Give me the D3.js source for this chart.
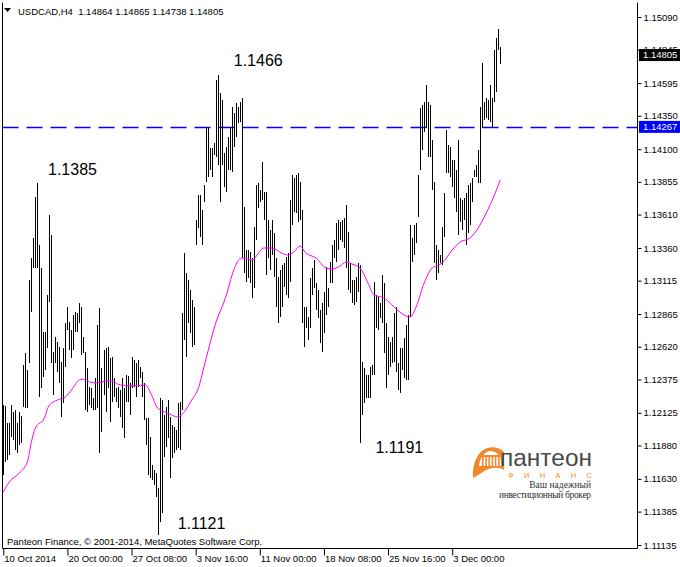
<!DOCTYPE html>
<html><head><meta charset="utf-8">
<script src="https://cdn.jsdelivr.net/npm/d3@7"></script>
<style>body{margin:0;background:#fff}svg{display:block}</style>
</head><body>
<svg id="chart" width="680" height="567"></svg>
<script>
const symbol = "USDCAD,H4";
const headerValues = ["1.14864", "1.14865", "1.14738", "1.14805"];
const highs = [1.12184,1.12176,1.12049,1.12049,1.12184,1.12131,1.12146,1.12049,1.12131,1.12101,
1.12483,1.12573,1.12446,1.13120,1.13285,1.13435,1.13741,1.13846,1.13382,1.13210,
1.12730,1.12730,1.13007,1.13607,1.13457,1.12581,1.12693,1.12656,1.12618,1.12506,
1.12611,1.12798,1.12918,1.12805,1.12745,1.12858,1.12880,1.12873,1.12948,1.12918,
1.12693,1.12581,1.12461,1.12318,1.12311,1.12236,1.12386,1.12783,1.12910,1.12461,
1.12596,1.12611,1.12618,1.12536,1.12543,1.12386,1.12311,1.12318,1.12296,1.12386,
1.12311,1.12408,1.12401,1.12348,1.12543,1.12521,1.12498,1.12521,1.12468,1.12431,
1.12348,1.12086,1.12086,1.11944,1.11734,1.11697,1.11674,1.11562,1.12236,1.12221,
1.12109,1.12169,1.12221,1.12094,1.12034,1.12019,1.11996,1.12199,1.12206,1.12873,
1.13322,1.13172,1.13120,1.13045,1.12970,1.12918,1.13569,1.13756,1.13756,1.13644,
1.13831,1.14258,1.14258,1.14109,1.14109,1.14146,1.14618,1.14655,1.14520,1.14468,
1.14071,1.14116,1.14191,1.14266,1.14416,1.14371,1.14446,1.14416,1.14453,1.14483,
1.13667,1.13345,1.13345,1.13330,1.13285,1.13517,1.13831,1.13846,1.13794,1.14004,
1.13779,1.13779,1.13569,1.13494,1.13569,1.13472,1.13285,1.13142,1.13195,1.13232,
1.13247,1.13292,1.13322,1.13719,1.13906,1.13884,1.13906,1.13921,1.13854,1.13644,
1.12918,1.12918,1.12843,1.13135,1.13210,1.13270,1.13097,1.13045,1.12895,1.12948,
1.13030,1.13217,1.13060,1.13255,1.13382,1.13420,1.13547,1.13569,1.13554,1.13569,
1.13584,1.13682,1.13479,1.13247,1.13120,1.13120,1.13142,1.13247,1.13232,1.12506,
1.12461,1.12408,1.12408,1.12468,1.12483,1.13105,1.13007,1.12992,1.12948,1.13157,
1.13097,1.12798,1.12693,1.12656,1.12693,1.12873,1.12918,1.12498,1.12611,1.12611,
1.12686,1.12783,1.12858,1.13532,1.13435,1.13532,1.13547,1.13906,1.14408,1.14431,
1.14453,1.14580,1.14453,1.14431,1.14168,1.13854,1.13382,1.13345,1.13307,1.13517,
1.13771,1.14243,1.14131,1.14116,1.14019,1.14019,1.13944,1.14168,1.13734,1.13719,
1.13734,1.13771,1.13831,1.13846,1.13884,1.13944,1.13981,1.14094,1.14416,1.14745,
1.14453,1.14483,1.14468,1.14580,1.14483,1.14842,1.14932,1.15000,1.14865];
const lows = [1.11659,1.11757,1.11772,1.11809,1.11944,1.11921,1.11847,1.11824,1.11884,1.11899,
1.12169,1.12161,1.12161,1.12498,1.12880,1.13210,1.13210,1.13210,1.12244,1.12311,
1.12393,1.12446,1.12611,1.12955,1.12498,1.12259,1.12498,1.12431,1.12348,1.12094,
1.12199,1.12468,1.12745,1.12596,1.12536,1.12596,1.12730,1.12730,1.12798,1.12558,
1.12573,1.12146,1.12131,1.12184,1.12161,1.12146,1.12146,1.12161,1.11824,1.11981,
1.12259,1.12131,1.12311,1.12056,1.12206,1.12244,1.12206,1.12161,1.12094,1.12011,
1.11936,1.12206,1.12206,1.12109,1.12311,1.12318,1.12244,1.12318,1.12386,1.12244,
1.12071,1.11884,1.11659,1.11637,1.11622,1.11584,1.11494,1.11210,1.11307,1.11375,
1.11794,1.11869,1.11936,1.11637,1.11787,1.11824,1.11847,1.11862,1.11847,1.12146,
1.12671,1.12543,1.12798,1.12723,1.12618,1.12633,1.13382,1.13509,1.13442,1.13382,
1.13704,1.13854,1.13891,1.13944,1.13891,1.14056,1.14041,1.13981,1.13704,1.13981,
1.13816,1.13779,1.13944,1.13944,1.13929,1.14116,1.14191,1.14296,1.14303,1.13285,
1.13172,1.13105,1.13135,1.13097,1.12985,1.13060,1.13420,1.13659,1.13704,1.13719,
1.13569,1.13157,1.13285,1.13195,1.13307,1.13142,1.12918,1.12798,1.12843,1.12918,
1.13067,1.13007,1.12985,1.13105,1.13532,1.13629,1.13622,1.13554,1.13569,1.12798,
1.12618,1.12760,1.12671,1.12760,1.13007,1.13060,1.12895,1.12835,1.12648,1.12581,
1.12723,1.12858,1.12918,1.13097,1.13097,1.13285,1.13255,1.13345,1.13420,1.13405,
1.13360,1.13210,1.13045,1.13022,1.12948,1.12933,1.12955,1.13030,1.11899,1.12109,
1.12199,1.12236,1.12236,1.12236,1.12408,1.12408,1.12760,1.12745,1.12835,1.12798,
1.12573,1.12311,1.12408,1.12468,1.12498,1.12506,1.12431,1.12296,1.12274,1.12446,
1.12386,1.12371,1.12371,1.12843,1.13255,1.13307,1.13397,1.13592,1.13944,1.14094,
1.14228,1.14258,1.14041,1.14041,1.13794,1.13247,1.13120,1.13172,1.13247,1.13232,
1.13442,1.13921,1.13921,1.13891,1.13816,1.13734,1.13629,1.13457,1.13554,1.13494,
1.13569,1.13382,1.13472,1.13532,1.13704,1.13891,1.13891,1.13846,1.13846,1.14258,
1.14318,1.14333,1.14318,1.14303,1.14258,1.14453,1.14528,1.14842,1.14738];
const maIndex = [0,3,8,12,14,16,17,20,23,27,31,34,38,41,43,47,51,55,57,63,
71,74,77,82,87,91,94,97,101,106,111,115,118,120,124,130,134,139,142,145,
148,151,156,161,164,168,171,174,178,182,185,190,195,200,203,206,210,214,216,219,
224,228,233,237,240,244,248];
const maValues = [1.11532,1.11607,1.11674,1.11757,1.11906,1.12011,1.12034,1.12071,1.12184,1.12221,
1.12244,1.12296,1.12371,1.12378,1.12356,1.12348,1.12363,1.12363,1.12341,1.12326,
1.12333,1.12259,1.12161,1.12124,1.12094,1.12146,1.12221,1.12296,1.12521,1.12798,
1.12992,1.13195,1.13277,1.13285,1.13270,1.13360,1.13360,1.13322,1.13307,1.13330,
1.13374,1.13322,1.13285,1.13210,1.13202,1.13225,1.13255,1.13240,1.13210,1.13097,
1.13007,1.12985,1.12918,1.12858,1.12843,1.12918,1.13097,1.13210,1.13225,1.13247,
1.13345,1.13405,1.13435,1.13510,1.13592,1.13719,1.13869];
const priceTicks = [1.15090,1.14845,1.14595,1.14350,1.14100,1.13855,1.13610,1.13360,1.13115,
1.12865,1.12620,1.12375,1.12125,1.11880,1.11630,1.11385,1.11135];
const timeLabels = ["10 Oct 2014","20 Oct 00:00","27 Oct 08:00","3 Nov 16:00","11 Nov 00:00","18 Nov 08:00","25 Nov 16:00","3 Dec 00:00"];
const timeLabelIndex = [0,32,64,96,128,160,192,224];
const levelPrice = 1.14267;
const lastPrice = 1.14805;
const noteTexts = ["1.1466","1.1385","1.1121","1.1191"];
const noteIndex = [115,22.3,87,185.7];
const notePrice = [1.14723,1.13906,1.11255,1.11824];
const copyright = "Panteon Finance, \u00a9 2001-2014, MetaQuotes Software Corp.";

const W = 680, H = 567;
const plotL = 2.5, plotR = 637.5, plotB = 548.5, plotT = 2.5;
const svg = d3.select("#chart");
const uiFont = "'Liberation Sans', Arial, sans-serif";

const x = d3.scaleLinear().domain([0, highs.length - 1]).range([3.3, 500.3]);
const y = d3.scaleLinear().domain([1.11135, 1.15090]).range([545, 17]);
const px = v => Math.round(v) + 0.5;

// frame
svg.append("path").attr("d", `M${plotL},${plotT}V${plotB}H${plotR}V${plotT}`)
  .attr("fill", "none").attr("stroke", "#000").attr("stroke-width", 1);

// level line
svg.append("line").attr("x1", plotL).attr("x2", plotR)
  .attr("y1", px(y(levelPrice))).attr("y2", px(y(levelPrice)))
  .attr("stroke", "#0000ff").attr("stroke-width", 1.6).attr("stroke-dasharray", "16,8");

// bars
svg.append("g").selectAll("line").data(highs).join("line")
  .attr("x1", (d, i) => px(x(i))).attr("x2", (d, i) => px(x(i)))
  .attr("y1", d => y(d)).attr("y2", (d, i) => y(lows[i]))
  .attr("stroke", "#000").attr("stroke-width", 1).attr("shape-rendering", "crispEdges");

// moving average
const maLine = d3.line().x(d => x(d[0])).y(d => y(d[1])).curve(d3.curveMonotoneX);
svg.append("path").datum(maIndex.map((d, i) => [d, maValues[i]]))
  .attr("d", maLine).attr("fill", "none").attr("stroke", "#ff00ff").attr("stroke-width", 1);

// right axis
const yAxis = d3.axisRight(y).tickValues(priceTicks).tickSize(4).tickPadding(2)
  .tickFormat(d3.format(".5f"));
const gy = svg.append("g").attr("transform", `translate(${plotR},0)`).call(yAxis);
gy.select(".domain").remove();
gy.selectAll("text").attr("font-family", uiFont).attr("font-size", 9.5).attr("fill", "#000");
gy.selectAll("line").attr("stroke", "#000");

// bottom axis
const xAxis = d3.axisBottom(x).tickValues(timeLabelIndex).tickSize(7)
  .tickFormat((d, i) => timeLabels[i]);
const gx = svg.append("g").attr("transform", `translate(0,${plotB})`).call(xAxis);
gx.select(".domain").remove();
gx.selectAll(".tick line").attr("stroke", "#000");
gx.selectAll(".tick text").attr("text-anchor", "start").attr("x", 0.5).attr("y", 7).attr("dy", "0.71em")
  .attr("font-family", uiFont).attr("font-size", 9.5).attr("fill", "#000");

// price tags
function tag(price, fill) {
  const cy = y(price);
  svg.append("rect").attr("x", 639).attr("y", cy - 6).attr("width", 41).attr("height", 12).attr("fill", fill);
  svg.append("text").attr("x", 643).attr("y", cy).attr("dy", "0.35em")
    .attr("font-family", uiFont).attr("font-size", 9.5).attr("fill", "#fff").text(d3.format(".5f")(price));
}
tag(lastPrice, "#000");
tag(levelPrice, "#0000ff");

// header
svg.append("path").attr("d", "M4,8H11L7.5,12Z").attr("fill", "#000");
svg.append("text").attr("x", 18).attr("y", 14.5).attr("font-family", uiFont).attr("font-size", 9.5)
  .attr("fill", "#000").attr("xml:space", "preserve")
  .text(symbol + "  " + headerValues.join(" "));

// annotations
svg.append("g").selectAll("text").data(noteTexts).join("text")
  .attr("x", (d, i) => x(noteIndex[i])).attr("y", (d, i) => y(notePrice[i]))
  .attr("font-family", uiFont).attr("font-size", 16).attr("fill", "#000").text(d => d);

// copyright
svg.append("text").attr("x", 7).attr("y", 544.5).attr("font-family", uiFont).attr("font-size", 9.5)
  .attr("fill", "#000").text(copyright);

// logo
const logo = svg.append("g");
const orange = "#f0892b";
logo.append("path").attr("d", "M473,478 C472,466 476,456 482,451 C488,446 498,446 504,452 L504,470 C498,466 488,467 480,474 Z")
  .attr("fill", orange);
logo.append("path").attr("d", "M479,466 C480,458 484,452 490,451 C496,451 500,455 501,460 L501,466 Z").attr("fill", "#fff");
for (let k = 0; k < 6; k++) {
  logo.append("rect").attr("x", 482 + k * 3.2).attr("y", 457).attr("width", 1.6).attr("height", 9).attr("fill", orange);
}
logo.append("rect").attr("x", 480).attr("y", 455).attr("width", 21).attr("height", 2).attr("fill", orange);
logo.append("text").attr("x", 500).attr("y", 466).attr("font-family", "'Liberation Sans', Arial, sans-serif")
  .attr("font-size", 24).attr("fill", "#4a4a4a").attr("textLength", 92).attr("lengthAdjust", "spacingAndGlyphs")
  .text("пантеон");
logo.append("text").attr("x", 508).attr("y", 478).attr("font-family", "'Liberation Sans', Arial, sans-serif")
  .attr("font-size", 7.5).attr("fill", orange).attr("textLength", 84).text("ФИНАНС");
logo.append("text").attr("x", 591).attr("y", 487.5).attr("text-anchor", "end")
  .attr("font-family", "'Liberation Serif', 'DejaVu Serif', serif").attr("font-size", 9.5).attr("fill", "#333")
  .text("Ваш надежный");
logo.append("text").attr("x", 499).attr("y", 497.5)
  .attr("font-family", "'Liberation Serif', 'DejaVu Serif', serif").attr("font-size", 9.5).attr("fill", "#333")
  .attr("textLength", 92).text("инвестиционный брокер");
</script>
</body></html>
